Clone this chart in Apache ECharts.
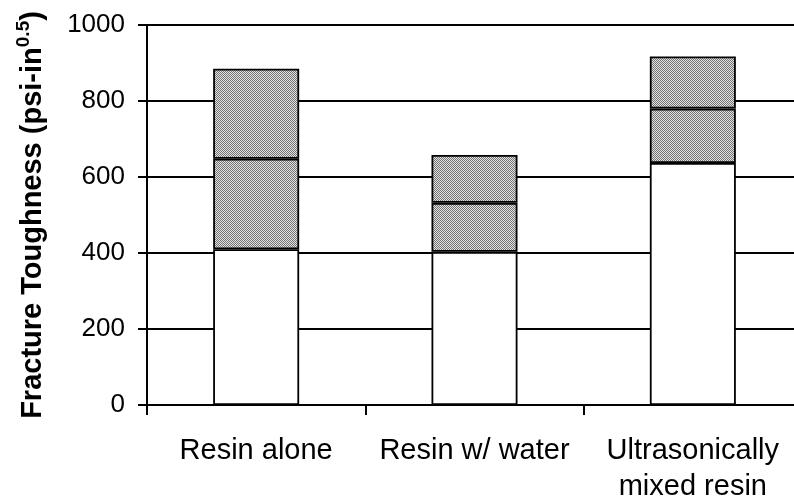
<!DOCTYPE html>
<html>
<head>
<meta charset="utf-8">
<script src="https://cdn.jsdelivr.net/npm/echarts@6/dist/echarts.min.js"></script>
<style>
  html, body { margin: 0; padding: 0; background: #fff; }
  #chart { width: 794px; height: 502px; }
</style>
</head>
<body>
<div id="chart"></div>
<script>
var categories = ['Resin alone', 'Resin w/ water', 'Ultrasonically\nmixed resin'];
var minValues = [410, 403, 637];
var meanValues = [648, 532, 780];
var maxValues = [885, 658, 917];

// small checker pattern for the shaded range
function makePattern() {
    var c = document.createElement('canvas');
    c.width = 2;
    c.height = 2;
    var ctx = c.getContext('2d');
    ctx.fillStyle = '#e2e2e2';
    ctx.fillRect(0, 0, 2, 2);
    ctx.fillStyle = '#747474';
    ctx.fillRect(0, 0, 1, 1);
    ctx.fillRect(1, 1, 1, 1);
    return { image: c, repeat: 'repeat' };
}
var shade = makePattern();

var lower = meanValues.map(function (v, i) { return v - minValues[i]; });
var upper = maxValues.map(function (v, i) { return v - meanValues[i]; });

var font = 'Liberation Sans, Arial, sans-serif';
var border = { borderColor: '#000', borderWidth: 1.8 };

var option = {
    animation: false,
    grid: { left: 147, right: -8, top: 25, bottom: 97, outerBoundsMode: 'none', containLabel: false },
    xAxis: {
        type: 'category',
        data: categories,
        axisLine: { lineStyle: { color: '#000', width: 2 } },
        axisTick: { show: true, length: 10, lineStyle: { color: '#000', width: 2 } },
        axisLabel: {
            color: '#000',
            fontFamily: font,
            fontSize: 29,
            lineHeight: 36,
            margin: 28,
            interval: 0
        }
    },
    yAxis: {
        type: 'value',
        min: 0,
        max: 1000,
        interval: 200,
        name: '{a|Fracture Toughness (psi-in}{s|0.5}{a|)}',
        nameLocation: 'middle',
        nameGap: 96,
        nameRotate: 90,
        nameTextStyle: {
            rich: {
                a: { fontFamily: font, fontSize: 29, fontWeight: 'bold', color: '#000' },
                s: { fontFamily: font, fontSize: 19, fontWeight: 'bold', color: '#000', verticalAlign: 'top', padding: [0, 0, 18, 0] }
            }
        },
        axisLine: { show: true, lineStyle: { color: '#000', width: 2 } },
        axisTick: { show: true, length: 9, lineStyle: { color: '#000', width: 2 } },
        axisLabel: {
            color: '#000',
            fontFamily: font,
            fontSize: 26,
            margin: 22,
            formatter: function (v) { return String(v); }
        },
        splitLine: { show: true, lineStyle: { color: '#000', width: 2 } }
    },
    series: [
        {
            type: 'bar',
            stack: 'ft',
            barWidth: 86,
            data: minValues,
            itemStyle: Object.assign({ color: '#fff' }, border)
        },
        {
            type: 'bar',
            stack: 'ft',
            barWidth: 86,
            data: lower,
            itemStyle: Object.assign({ color: shade }, border)
        },
        {
            type: 'bar',
            stack: 'ft',
            barWidth: 86,
            data: upper,
            itemStyle: Object.assign({ color: shade }, border)
        }
    ]
};

echarts.init(document.getElementById('chart')).setOption(option);
</script>
</body>
</html>
